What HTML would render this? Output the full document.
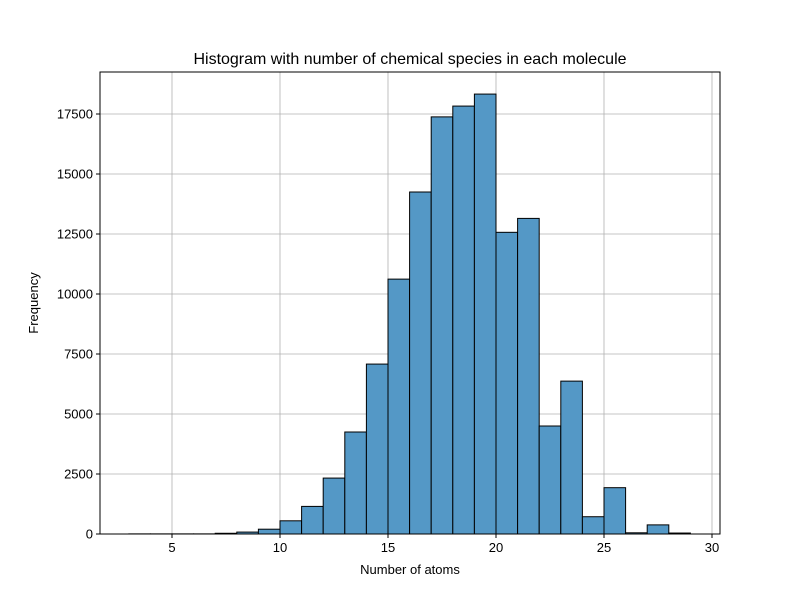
<!DOCTYPE html>
<html><head><meta charset="utf-8"><style>body{margin:0;background:#fff}svg{display:block;font-family:"Liberation Sans","DejaVu Sans",sans-serif}</style></head>
<body>
<svg id="chart" width="800" height="600"></svg>
<script>
const binStarts=[3,4,5,6,7,8,9,10,11,12,13,14,15,16,17,18,19,20,21,22,23,24,25,26,27,28];
const counts=[5,5,5,5,30,80,200,550,1150,2330,4250,7080,10620,14250,17380,17830,18330,12570,13150,4500,6370,720,1930,50,380,40];
const xTicks=[5,10,15,20,25,30];
const yTicks=[0,2500,5000,7500,10000,12500,15000,17500];
const L=100,R=720,T=72,B=534;
const xs=v=>64+v*21.6;
const ys=v=>534-v*0.024;
const NS="http://www.w3.org/2000/svg";
const svg=document.getElementById('chart');
function mk(t,a,p){const e=document.createElementNS(NS,t);for(const k in a)e.setAttribute(k,a[k]);(p||svg).appendChild(e);return e;}
const grid=mk('g',{});


xTicks.forEach(v=>{mk('line',{x1:xs(v),x2:xs(v),y1:T,y2:B,stroke:'#b0b0b0','stroke-width':0.8},grid);});
yTicks.forEach(v=>{mk('line',{x1:L,x2:R,y1:ys(v),y2:ys(v),stroke:'#b0b0b0','stroke-width':0.8},grid);});
const bars=mk('g',{});


binStarts.forEach((s,i)=>{
 const r=mk('rect',{x:xs(s),y:ys(counts[i]),width:xs(s+1)-xs(s),height:B-ys(counts[i]),fill:'#5498c6',stroke:'#000','stroke-width':1},bars);
 
 
});
const frame=mk('rect',{x:L,y:T,width:R-L,height:B-T,fill:'none',stroke:'#000','stroke-width':1});


xTicks.forEach(v=>{
 mk('line',{x1:xs(v),x2:xs(v),y1:B,y2:B+4,stroke:'#000'});
 const t=mk('text',{x:xs(v),y:B+18,'text-anchor':'middle','font-size':13});
 t.textContent=v;
 
 
});
yTicks.forEach(v=>{
 mk('line',{x1:L-4,x2:L,y1:ys(v),y2:ys(v),stroke:'#000'});
 const t=mk('text',{x:L-7,y:ys(v)+4.5,'text-anchor':'end','font-size':13});
 t.textContent=v;
 
 
});
const title=mk('text',{x:410,y:64,'text-anchor':'middle','font-size':16});
title.textContent='Histogram with number of chemical species in each molecule';


const xl=mk('text',{x:410,y:574,'text-anchor':'middle','font-size':13});
xl.textContent='Number of atoms';


const yl=mk('text',{x:38,y:303,'text-anchor':'middle','font-size':13,transform:'rotate(-90 38 303)'});
yl.textContent='Frequency';


</script>
</body></html>
